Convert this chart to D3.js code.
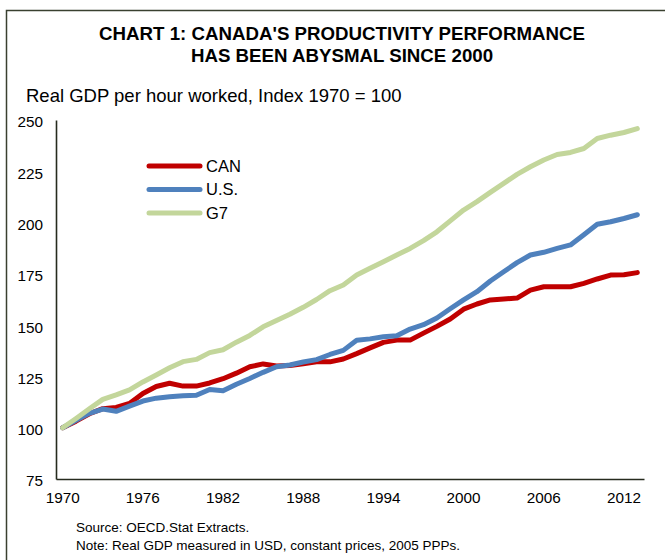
<!DOCTYPE html>
<html>
<head>
<meta charset="utf-8">
<script src="https://cdn.jsdelivr.net/npm/d3@7"></script>
<style>
  body { margin: 0; background: #fff; }
  text { font-family: Arial, "Liberation Sans", sans-serif; fill: #000; }
</style>
</head>
<body>
<div id="chart"></div>
<script>
var svgWidth = 665;
var svgHeight = 560;

// Data (index, 1970 = 100)
var years = d3.range(1970, 2014);
var canValues = [100, 103.2, 106.8, 109.3, 109.9, 111.8, 116.7, 120.1, 121.7, 120.3,
  120.3, 121.8, 123.9, 126.6, 129.7, 131.1, 130.1, 130.3, 131.2, 132.1,
  132.1, 133.5, 136.1, 138.9, 141.6, 142.7, 142.7, 146.1, 149.4, 153.0,
  157.8, 160.3, 162.3, 162.7, 163.2, 167.1, 168.7, 168.7, 168.7, 170.4,
  172.5, 174.4, 174.6, 175.6];
var usValues = [100, 103.6, 107, 109.1, 108, 110.5, 113, 114.4, 115.1, 115.6,
  115.8, 118.6, 118, 121.2, 124, 127, 129.7, 130.6, 132, 133.2,
  135.7, 137.7, 142.6, 143.3, 144.3, 144.8, 148.1, 150.2, 153.5, 158,
  162.3, 166.3, 171.5, 176, 180.5, 184.2, 185.5, 187.4, 189.1, 194.1,
  199.2, 200.4, 202, 203.8];
var g7Values = [100, 104.5, 109.2, 113.8, 116, 118.4, 122.3, 125.7, 129.2, 132.2,
  133.3, 136.6, 138, 141.7, 145, 149.2, 152.3, 155.3, 158.7, 162.5,
  166.8, 169.6, 174.4, 177.7, 180.9, 184.2, 187.4, 191.2, 195.5, 200.8,
  206.1, 210.2, 214.7, 219.1, 223.5, 227.2, 230.5, 233.2, 234.2, 236.1,
  241, 242.6, 243.9, 245.8];
var seriesNames = ["CAN", "U.S.", "G7"];
var xTickYears = [1970, 1976, 1982, 1988, 1994, 2000, 2006, 2012];
var yTickValues = [75, 100, 125, 150, 175, 200, 225, 250];

var colors = { "CAN": "#C00000", "U.S.": "#4F81BD", "G7": "#C3D69B" };

var series = [
  { name: "CAN", values: canValues },
  { name: "U.S.", values: usValues },
  { name: "G7", values: g7Values }
];

var svg = d3.select("#chart")
  .append("svg")
  .attr("width", svgWidth)
  .attr("height", svgHeight);

// outer frame (only top and left edges show)
svg.append("path")
  .attr("d", "M6.5,560 V10.5 H665")
  .attr("fill", "none")
  .attr("stroke", "#3a4030")
  .attr("stroke-width", 1.5);

// Titles
svg.append("text")
  .attr("x", 342)
  .attr("y", 40)
  .attr("text-anchor", "middle")
  .style("font-size", "18.7px")
  .style("font-weight", "bold")
  .text("CHART 1: CANADA'S PRODUCTIVITY PERFORMANCE");

svg.append("text")
  .attr("x", 342)
  .attr("y", 61.5)
  .attr("text-anchor", "middle")
  .style("font-size", "18.7px")
  .style("font-weight", "bold")
  .text("HAS BEEN ABYSMAL SINCE 2000");

svg.append("text")
  .attr("x", 26)
  .attr("y", 102)
  .style("font-size", "18.5px")
  .text("Real GDP per hour worked, Index 1970 = 100");

// Scales
var xScale = d3.scaleBand()
  .domain(years)
  .range([56, 644])
  .padding(0);

var yScale = d3.scaleLinear()
  .domain([75, 250])
  .range([479, 120]);

var xMid = function(yr) { return xScale(yr) + xScale.bandwidth() / 2; };

// Lines
var line = d3.line()
  .x(function(d, i) { return xMid(years[i]); })
  .y(function(d) { return yScale(d); });

svg.append("g")
  .selectAll("path")
  .data(series)
  .enter()
  .append("path")
  .attr("d", function(d) { return line(d.values); })
  .attr("fill", "none")
  .attr("stroke", function(d) { return colors[d.name]; })
  .attr("stroke-width", 5)
  .attr("stroke-linejoin", "round")
  .attr("stroke-linecap", "round");

// Axes
var bottomAxis = d3.axisBottom(xScale)
  .tickValues(xTickYears)
  .tickSize(0)
  .tickPadding(13);

var leftAxis = d3.axisLeft(yScale)
  .tickValues(yTickValues)
  .tickSize(0)
  .tickPadding(13);

var xAxisG = svg.append("g")
  .attr("transform", "translate(0, " + yScale(75) + ")")
  .call(bottomAxis);

var yAxisG = svg.append("g")
  .attr("transform", "translate(56, 0)")
  .call(leftAxis);

[xAxisG, yAxisG].forEach(function(g) {
  g.select(".domain")
    .attr("stroke", "#262b1e")
    .attr("stroke-width", 1.6);
  g.selectAll("text")
    .style("font-size", "15.3px")
    .attr("fill", "#000");
});

yAxisG.selectAll("text").attr("dy", "0.45em");

// Legend
var legend = svg.append("g")
  .selectAll("g")
  .data(seriesNames)
  .enter()
  .append("g")
  .attr("transform", function(d, i) { return "translate(149, " + (166 + i * 23.5) + ")"; });

legend.append("line")
  .attr("x1", 0)
  .attr("x2", 51)
  .attr("stroke", function(d) { return colors[d]; })
  .attr("stroke-width", 5)
  .attr("stroke-linecap", "round");

legend.append("text")
  .attr("x", 57)
  .attr("dy", "0.36em")
  .style("font-size", "16.5px")
  .text(function(d) { return d; });

// Footnotes
svg.append("text")
  .attr("x", 76)
  .attr("y", 532)
  .style("font-size", "13.5px")
  .text("Source: OECD.Stat Extracts.");

svg.append("text")
  .attr("x", 76)
  .attr("y", 550)
  .style("font-size", "13.5px")
  .text("Note: Real GDP measured in USD, constant prices, 2005 PPPs.");
</script>
</body>
</html>
